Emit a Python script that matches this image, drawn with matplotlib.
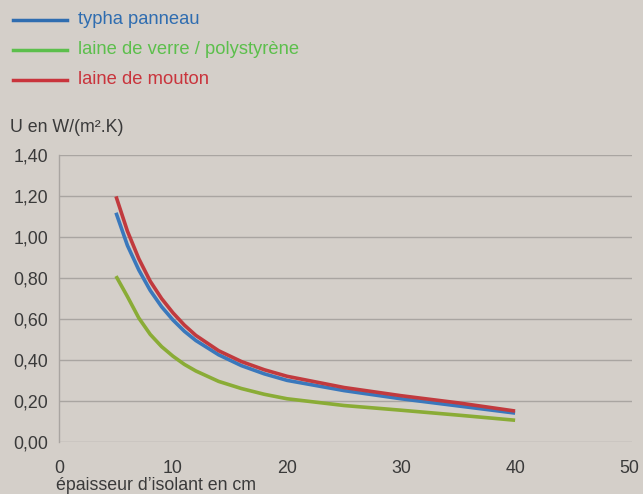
import matplotlib
matplotlib.use("Agg")
import matplotlib.pyplot as plt
from matplotlib.lines import Line2D

plt.rcParams['font.family'] = ['Liberation Sans', 'DejaVu Sans']

# épaisseur d'isolant (cm)
epaisseur = [5, 6, 7, 8, 9, 10, 11, 12, 14, 16, 18, 20, 25, 30, 35, 40]

# U en W/(m².K)
typha = [1.12, 0.96, 0.84, 0.74, 0.66, 0.595, 0.54, 0.495, 0.425, 0.372, 0.332, 0.30, 0.25, 0.21, 0.175, 0.14]
verre = [0.81, 0.71, 0.605, 0.525, 0.465, 0.418, 0.378, 0.346, 0.295, 0.26, 0.232, 0.21, 0.177, 0.154, 0.13, 0.105]
mouton = [1.20, 1.03, 0.895, 0.785, 0.70, 0.63, 0.57, 0.52, 0.445, 0.392, 0.352, 0.32, 0.265, 0.225, 0.19, 0.15]

noms = ["typha panneau", "laine de verre / polystyrène", "laine de mouton"]
couleurs_legende = ["#2f6db0", "#5cbf4c", "#c9343c"]
couleurs_courbes = ["#3a78bc", "#8aac36", "#c13a3e"]

yticks = [0.0, 0.2, 0.4, 0.6, 0.8, 1.0, 1.2, 1.4]
xticks = [0, 10, 20, 30, 40, 50]

fond = "#d4cfc9"
gris = "#a9a5a1"
texte = "#3a3a3a"

fig = plt.figure(figsize=(6.43, 4.94), dpi=100, facecolor=fond)
ax = fig.add_axes([59 / 643, 1 - 441.7 / 494, (632 - 59) / 643, (441.7 - 155.5) / 494])
ax.set_facecolor(fond)

for y in yticks:
    ax.axhline(y, color=gris, lw=1.0, zorder=1)

ax.plot(epaisseur, verre, color=couleurs_courbes[1], lw=2.6, zorder=3, solid_capstyle='butt', solid_joinstyle='round')
ax.plot(epaisseur, typha, color=couleurs_courbes[0], lw=2.6, zorder=4, solid_capstyle='butt', solid_joinstyle='round')
ax.plot(epaisseur, mouton, color=couleurs_courbes[2], lw=2.6, zorder=5, solid_capstyle='butt', solid_joinstyle='round')

ax.set_xlim(0, 50.25)
ax.set_ylim(0, 1.4)
ax.set_xticks(xticks)
ax.set_yticks(yticks)
ax.set_yticklabels([f"{v:.2f}".replace(".", ",") for v in yticks])
ax.tick_params(length=0, labelsize=12.8, colors=texte, pad=8)
ax.tick_params(axis='x', pad=13)
for s in ["top", "right", "bottom"]:
    ax.spines[s].set_visible(False)
ax.spines["left"].set_color(gris)
ax.spines["left"].set_linewidth(1.0)

fig.text(10 / 643, 1 - 127 / 494, "U en W/(m².K)", fontsize=12.8, color=texte, va='center')
fig.text(56 / 643, 1 - 485 / 494, "épaisseur d’isolant en cm", fontsize=12.8, color=texte, va='center')

# légende
for i, (nom, c) in enumerate(zip(noms, couleurs_legende)):
    yy = 1 - (20 + 30 * i) / 494
    fig.add_artist(Line2D([13 / 643, 67 / 643], [yy, yy], color=c, lw=2.5))
    fig.text(78 / 643, yy, nom, color=c, fontsize=13.2, va='center')

fig.savefig("out.png", dpi=100, facecolor=fond)
